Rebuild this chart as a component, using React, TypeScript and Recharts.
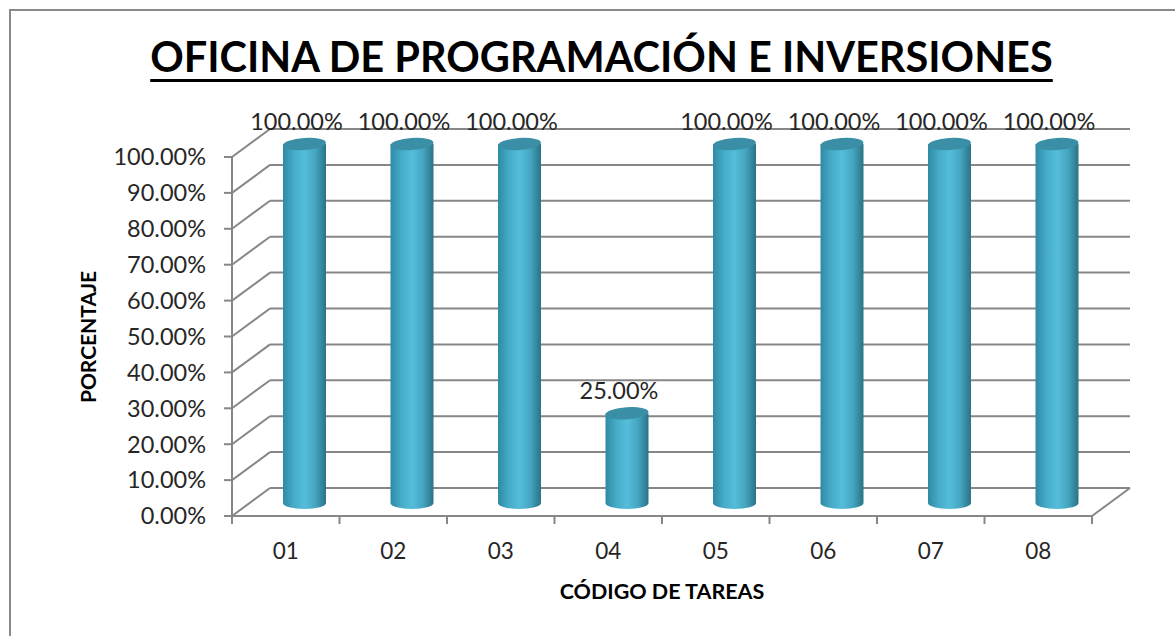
import React from 'react';
import { BarChart, Bar, XAxis, YAxis, CartesianGrid, LabelList } from 'recharts';

const categories = ['01', '02', '03', '04', '05', '06', '07', '08'];
const percentages = [100, 100, 100, 25, 100, 100, 100, 100];
const yTicks = [0, 10, 20, 30, 40, 50, 60, 70, 80, 90, 100];

const data = categories.map((code, i) => ({ code, value: percentages[i] }));

const W = 1175;
const H = 636;
// front plane of the 3D box
const PLOT_LEFT = 232;
const PLOT_RIGHT = 1092;
const PLOT_TOP = 157;
const PLOT_BOTTOM = 516;
const Y_AXIS_W = 120;
const X_AXIS_H = 60;
// depth of the box (front -> back)
const DEPTH_X = 38;
const DEPTH_Y = -28;
// bars sit halfway in
const BAR_DX = 19;
const BAR_DY = -13;

const gridColor = '#878787';
const textColor = '#262626';
const font = 'Lato, "Open Sans", sans-serif';
const halfBand = (PLOT_RIGHT - PLOT_LEFT) / categories.length / 2;

const GridLine = (props: any) => {
  const { x1, x2, y1, index } = props;
  const isFloor = Math.abs(y1 - PLOT_BOTTOM) < 1;
  return (
    <g key={`grid-${index}`}>
      <line x1={x1 + DEPTH_X} y1={y1 + DEPTH_Y} x2={x2 + DEPTH_X} y2={y1 + DEPTH_Y} stroke={gridColor} strokeWidth={2} />
      <line x1={x1} y1={y1} x2={x1 + DEPTH_X} y2={y1 + DEPTH_Y} stroke={gridColor} strokeWidth={2} />
      {isFloor && (
        <line x1={x2} y1={y1} x2={x2 + DEPTH_X} y2={y1 + DEPTH_Y} stroke={gridColor} strokeWidth={2} />
      )}
    </g>
  );
};

const Cylinder = (props: any) => {
  const { x, y, width, height, index } = props;
  const left = x + BAR_DX;
  const right = left + width;
  const top = y + BAR_DY;
  const bottom = y + height + BAR_DY;
  const rx = width / 2;
  const ry = 6;
  const id = `cyl-${index}`;
  return (
    <g>
      <defs>
        <linearGradient id={id} x1="0" y1="0" x2="1" y2="0">
          <stop offset="0%" stopColor="#2f8aa4" />
          <stop offset="25%" stopColor="#45abc7" />
          <stop offset="50%" stopColor="#55bdda" />
          <stop offset="75%" stopColor="#45a6c1" />
          <stop offset="100%" stopColor="#2a7386" />
        </linearGradient>
      </defs>
      <path
        d={`M${left},${top} L${left},${bottom} A${rx},${ry} 0 0 0 ${right},${bottom} L${right},${top} Z`}
        fill={`url(#${id})`}
      />
      <ellipse
        cx={left + rx}
        cy={top}
        rx={rx}
        ry={ry}
        fill="#3a8ea6"
        transform={`rotate(-4 ${left + rx} ${top})`}
      />
    </g>
  );
};

const ValueLabel = (props: any) => {
  const { x, y, width, value } = props;
  return (
    <text
      x={x + width / 2 + BAR_DX - 8}
      y={y + BAR_DY - 23}
      textAnchor="middle"
      dominantBaseline="central"
      fontSize={23.5}
      fontFamily={font}
      fill={textColor}
    >
      {`${Number(value).toFixed(2)}%`}
    </text>
  );
};

const CategoryTick = (props: any) => {
  const { x, payload, index } = props;
  const last = index === categories.length - 1;
  return (
    <g>
      <line x1={x - halfBand} y1={PLOT_BOTTOM} x2={x - halfBand} y2={PLOT_BOTTOM + 8} stroke={gridColor} strokeWidth={2} />
      {last && (
        <line x1={x + halfBand} y1={PLOT_BOTTOM} x2={x + halfBand} y2={PLOT_BOTTOM + 8} stroke={gridColor} strokeWidth={2} />
      )}
      <text x={x} y={PLOT_BOTTOM + 34} textAnchor="middle" dominantBaseline="central" fontSize={22.5} fontFamily={font} fill={textColor}>
        {payload.value}
      </text>
    </g>
  );
};

export default function App() {
  return (
    <div style={{ position: 'absolute', left: 0, top: 0, width: W, height: H, overflow: 'hidden', background: '#fff' }}>
      <div
        style={{
          position: 'absolute',
          left: 9,
          top: 9,
          width: W + 20,
          height: H + 20,
          border: '2px solid #8a8a8a',
          boxSizing: 'border-box',
        }}
      />
      <div
        style={{
          position: 'absolute',
          left: 0,
          width: W,
          top: 32,
          textAlign: 'center',
          paddingLeft: 28,
          boxSizing: 'border-box',
          fontFamily: font,
          fontWeight: 700,
          fontSize: 41.5,
          lineHeight: '48px',
          color: '#000',
          textDecoration: 'underline',
          textDecorationThickness: 2.5,
          textUnderlineOffset: 7,
        }}
      >
        OFICINA DE PROGRAMACIÓN E INVERSIONES
      </div>
      <div
        style={{
          position: 'absolute',
          left: 88 - 100,
          top: 337 - 13,
          width: 200,
          textAlign: 'center',
          transform: 'rotate(-90deg)',
          fontFamily: font,
          fontWeight: 700,
          fontSize: 21,
          lineHeight: '26px',
          color: '#000',
        }}
      >
        PORCENTAJE
      </div>
      <div
        style={{
          position: 'absolute',
          left: 662 - 150,
          top: 591 - 13,
          width: 300,
          textAlign: 'center',
          fontFamily: font,
          fontWeight: 700,
          fontSize: 21.5,
          lineHeight: '26px',
          color: '#000',
        }}
      >
        CÓDIGO DE TAREAS
      </div>
      <div style={{ position: 'absolute', left: 0, top: 0 }}>
        <BarChart
          width={W}
          height={H}
          data={data}
          margin={{
            left: PLOT_LEFT - Y_AXIS_W,
            right: W - PLOT_RIGHT,
            top: PLOT_TOP,
            bottom: H - PLOT_BOTTOM - X_AXIS_H,
          }}
        >
          <CartesianGrid vertical={false} horizontal={GridLine} />
          <XAxis
            dataKey="code"
            height={X_AXIS_H}
            tickLine={false}
            axisLine={{ stroke: gridColor, strokeWidth: 2 }}
            tick={CategoryTick}
            interval={0}
          />
          <YAxis
            width={Y_AXIS_W}
            domain={[0, 100]}
            ticks={yTicks}
            interval={0}
            tickFormatter={(v: number) => `${v.toFixed(2)}%`}
            tickSize={8}
            tickMargin={18}
            axisLine={{ stroke: gridColor, strokeWidth: 2 }}
            tickLine={{ stroke: gridColor, strokeWidth: 2 }}
            tick={{ fontSize: 23.5, fill: textColor, fontFamily: font }}
          />
          <Bar dataKey="value" barSize={43} shape={Cylinder} isAnimationActive={false}>
            <LabelList dataKey="value" content={ValueLabel} />
          </Bar>
        </BarChart>
      </div>
    </div>
  );
}
